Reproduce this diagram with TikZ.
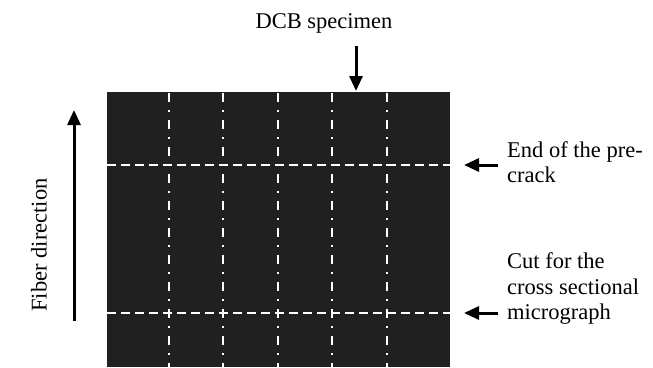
\documentclass[tikz,border=0pt]{standalone}
\usepackage{fontspec}
\setmainfont{Liberation Serif}
\usetikzlibrary{arrows.meta}
\begin{document}
\begin{tikzpicture}[x=1pt,y=-1pt,
  lbl/.style={font=\fontsize{22.5}{25.5}\selectfont, inner sep=0pt},
  bigarrow/.style={line width=3pt, -{Triangle[length=15pt,width=13pt]}},
  vcut/.style={white, line width=1.8pt, dash pattern=on 9pt off 8pt on 2pt off 8pt},
  hcut/.style={white, line width=1.8pt, dash pattern=on 9pt off 5pt}]
\useasboundingbox (0,0) rectangle (653,367);
\fill[fill={rgb,255:red,32;green,32;blue,32}] (107,92) rectangle (450,367);
\foreach \x in {169,223,278,332,387} \draw[vcut] (\x,93) -- (\x,367);
\foreach \y in {165,313} \draw[hcut] (107,\y) -- (450,\y);
\node[lbl] (dcb) at (324,23) {DCB specimen};
\coordinate (dcbtail) at (356,46);
\coordinate (dcbtip) at (356,91);
\draw[bigarrow] (dcbtail) -- (dcbtip);
\node[lbl, anchor=west, align=left] (end) at (507,162) {End of the pre-\\crack};
\coordinate (endtip) at (464,165);
\coordinate (endtail) at (498,165);
\draw[bigarrow] (endtail) -- (endtip);
\node[lbl, anchor=west, align=left] (cut) at (507,289) {Cut for the\\cross sectional\\micrograph};
\coordinate (cuttip) at (464,313);
\coordinate (cuttail) at (498,313);
\draw[bigarrow] (cuttail) -- (cuttip);
\coordinate (fbot) at (74,321);
\coordinate (ftop) at (74,110);
\draw[bigarrow] (fbot) -- (ftop);
\node[lbl, rotate=90] (fiber) at (39,245) {Fiber direction};
\end{tikzpicture}
\end{document}
